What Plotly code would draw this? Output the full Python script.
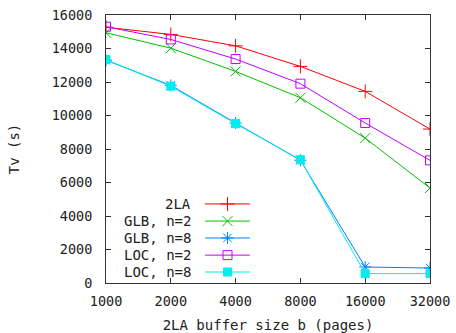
import plotly.graph_objects as go

buffer_sizes = [1000, 2000, 4000, 8000, 16000, 32000]
tick_labels = ["1000", "2000", "4000", "8000", "16000", "32000"]
series_names = ["2LA", "GLB, n=2", "GLB, n=8", "LOC, n=2", "LOC, n=8"]
tla = [15270, 14840, 14160, 12930, 11440, 9190]
glb2 = [14940, 14020, 12630, 11060, 8650, 5670]
glb8 = [13300, 11800, 9550, 7330, 955, 895]
loc2 = [15300, 14540, 13370, 11900, 9550, 7320]
loc8 = [13330, 11750, 9510, 7360, 560, 560]

values = [tla, glb2, glb8, loc2, loc8]
colors = ["#ff0000", "#00c000", "#0080ff", "#c000ff", "#00eeee"]
symbols = ["cross-thin-open", "x-thin-open", "asterisk-open", "square-open", "square"]
msizes = [10, 10, 10, 9, 8]

FONT = "DejaVu Sans Mono"
fig = go.Figure()
for name, vals, c, s, ms in zip(series_names, values, colors, symbols, msizes):
    fig.add_trace(go.Scatter(
        x=buffer_sizes, y=vals, mode="lines+markers", name=name,
        line=dict(color=c, width=1),
        marker=dict(symbol=s, size=ms, color=c, line=dict(color=c, width=1)),
        showlegend=False,
    ))

# gnuplot-style key: text right-aligned, sample line + marker to the right
legend_rows = [0.295, 0.231, 0.168, 0.104, 0.041]
for name, c, s, ms, yr in zip(series_names, colors, symbols, msizes, legend_rows):
    fig.add_trace(go.Scatter(
        x=[0.306, 0.375, 0.444], y=[yr, yr, yr], xaxis="x2", yaxis="y2",
        mode="lines+markers", line=dict(color=c, width=1),
        marker=dict(symbol=s, size=ms, color=c, line=dict(color=c, width=1),
                    opacity=1),
        selectedpoints=[1], unselected=dict(marker=dict(opacity=0)),
        showlegend=False, hoverinfo="skip",
    ))
    fig.add_annotation(x=0.269, y=yr, xref="paper", yref="paper", text=name,
                       showarrow=False, xanchor="right", yanchor="middle",
                       font=dict(family=FONT, size=14, color="#222"))

axis_common = dict(showline=True, linecolor="#333", linewidth=1, mirror="allticks",
                   ticks="inside", ticklen=5, tickcolor="#333", showgrid=False,
                   zeroline=False, automargin=False,
                   tickfont=dict(family=FONT, size=13.5, color="#222"))

fig.update_layout(
    width=456, height=333,
    margin=dict(l=106, r=26, t=15, b=50),
    paper_bgcolor="white", plot_bgcolor="white",
    xaxis=dict(type="log", range=[3, 4.50515], tickvals=buffer_sizes, ticktext=tick_labels,
               ticklabelstandoff=6,
               title=dict(text="2LA buffer size b (pages)", font=dict(family=FONT, size=14, color="#222"), standoff=12),
               **axis_common),
    yaxis=dict(range=[0, 16000], dtick=2000, tickformat="d", ticklabelstandoff=10,
               title=dict(text="Tv (s)", font=dict(family=FONT, size=14, color="#222"), standoff=28),
               **axis_common),
    xaxis2=dict(overlaying="x", range=[0, 1], visible=False),
    yaxis2=dict(overlaying="y", range=[0, 1], visible=False),
    showlegend=False,
)

fig.write_html("out.html", config={"displayModeBar": False},
               post_script="document.body.style.margin='0';document.body.style.overflow='hidden';")
